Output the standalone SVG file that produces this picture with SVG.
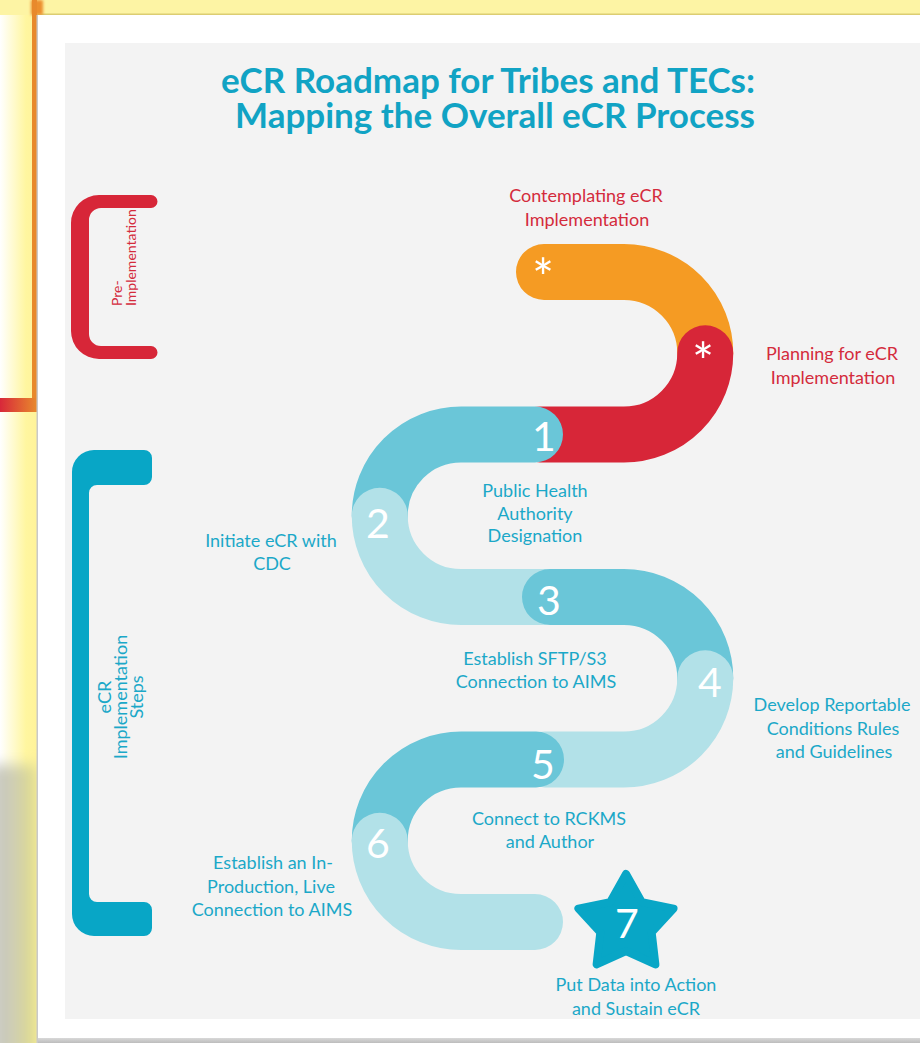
<svg xmlns="http://www.w3.org/2000/svg" width="920" height="1043" viewBox="0 0 920 1043">
<defs>
<linearGradient id="gLeft" x1="0" y1="0" x2="1" y2="0">
<stop offset="0" stop-color="#ffffff"/>
<stop offset="0.7" stop-color="#fff6a0"/>
<stop offset="1" stop-color="#fff39a"/>
</linearGradient>
<linearGradient id="gBand" x1="0" y1="0" x2="1" y2="0">
<stop offset="0" stop-color="#d8283a"/>
<stop offset="1" stop-color="#e88a2c"/>
</linearGradient>
<linearGradient id="gGray" x1="0" y1="0" x2="1" y2="0">
<stop offset="0" stop-color="#c4c4c4"/>
<stop offset="0.45" stop-color="#cdcdb8"/>
<stop offset="1" stop-color="#e0dc86"/>
</linearGradient>
<linearGradient id="gBottom" x1="0" y1="0" x2="0" y2="1">
<stop offset="0" stop-color="#d8d8d8"/>
<stop offset="1" stop-color="#bdbdbd"/>
</linearGradient>
<filter id="blur" x="-0.5" y="-0.2" width="2" height="1.4"><feGaussianBlur stdDeviation="7"/></filter>
<filter id="blur2" x="-0.5" y="-0.5" width="2" height="2"><feGaussianBlur stdDeviation="1.5"/></filter>
<style>
.seg{fill:none;stroke-width:56;stroke-linecap:round}
.orange{stroke:#f59b23}
.red{stroke:#d72638}
.mid{stroke:#6ac6d8}
.light{stroke:#b2e1e8}
.num{font-family:Lato,"Open Sans",sans-serif;font-size:41px;fill:#ffffff;text-anchor:middle}
.ast{font-family:Lato,"Open Sans",sans-serif;font-size:52px;fill:#ffffff;text-anchor:middle}
.lb{font-family:Lato,"Open Sans",sans-serif;font-size:18px;fill:#1ba8c8;text-anchor:middle}
.lr{font-family:Lato,"Open Sans",sans-serif;font-size:18px;fill:#d42b3c;text-anchor:middle}
.title{font-family:Lato,"Open Sans",sans-serif;font-weight:bold;font-size:35px;fill:#11a3c4;text-anchor:middle}
.vt{font-family:Lato,"Open Sans",sans-serif;font-size:14px}
</style>
</defs>

<!-- screenshot frame -->
<g id="frame">
<rect x="0" y="0" width="920" height="1043" fill="#ffffff"/>
<rect x="0" y="0" width="37" height="1043" fill="url(#gLeft)"/>
<rect x="0" y="0" width="920" height="15" fill="#fdf4a4"/>
<rect x="37" y="13.5" width="883" height="1.5" fill="#dccd72"/>
<rect x="31" y="0" width="12" height="15" fill="#ec8f2e" filter="url(#blur2)"/>
<rect x="32" y="0" width="5" height="398" fill="#e8892c"/>
<rect x="0" y="398" width="37" height="14" fill="url(#gBand)"/>
<rect x="-10" y="765" width="47" height="300" fill="url(#gGray)" filter="url(#blur)"/>
<rect x="37" y="15" width="883" height="1028" fill="#ffffff"/>
<rect x="36.5" y="15" width="1.5" height="1028" fill="#c9c9c9"/>
<rect x="38" y="1038" width="882" height="5" fill="url(#gBottom)"/>
<rect x="65" y="43" width="855" height="976" fill="#f3f3f3"/>
</g>

<g id="title">
<text class="title" x="488" y="93">eCR Roadmap for Tribes and TECs:</text>
<text class="title" x="495" y="128">Mapping the Overall eCR Process</text>
</g>

<g id="bracket-pre">
<path d="M151 195 L99 195 A28 28 0 0 0 71 223 L71 331 A28 28 0 0 0 99 359 L151 359 A6.5 6.5 0 0 0 151 346 L101 346 A12 12 0 0 1 89 334 L89 220 A12 12 0 0 1 101 208 L151 208 A6.5 6.5 0 0 0 151 195 Z" fill="#d72638"/>
<text class="vt" fill="#d42b3c" transform="translate(122,306) rotate(-90)"><tspan x="0" y="0">Pre-</tspan><tspan x="0" y="14">Implementation</tspan></text>
</g>

<g id="bracket-impl">
<path d="M144 450 L94 450 A22 22 0 0 0 72 472 L72 914 A22 22 0 0 0 94 936 L144 936 A8 8 0 0 0 152 928 L152 910 A8 8 0 0 0 144 902 L97 902 A8 8 0 0 1 89 894 L89 493 A8 8 0 0 1 97 485 L144 485 A8 8 0 0 0 152 477 L152 458 A8 8 0 0 0 144 450 Z" fill="#08a6c6"/>
<text class="vt" fill="#1ba8c8" text-anchor="middle" style="font-size:18px" transform="translate(111,697) rotate(-90)"><tspan x="0" y="0">eCR</tspan><tspan x="0" y="16">Implementation</tspan><tspan x="0" y="32">Steps</tspan></text>
</g>

<g id="connectors">
<path class="seg orange" d="M544 272 L624 272 A81.25 81.25 0 0 1 705.25 353.25"/>
<path class="seg red" d="M705.25 353.25 A81.25 81.25 0 0 1 624 434.5 L540 434.5"/>
<path class="seg mid" d="M535 434.5 L461 434.5 A81.25 81.25 0 0 0 379.75 515.75"/>
<path class="seg light" d="M379.75 515.75 A81.25 81.25 0 0 0 461 597 L545 597"/>
<path class="seg mid" d="M550 597 L624 597 A81.25 81.25 0 0 1 705.25 678.25"/>
<path class="seg light" d="M705.25 678.25 A81.25 81.25 0 0 1 624 759.5 L545 759.5"/>
<path class="seg mid" d="M536 759.5 L461 759.5 A81.25 81.25 0 0 0 379.75 840.75"/>
<path class="seg light" d="M379.75 840.75 A81.25 81.25 0 0 0 461 922 L535 922"/>
</g>

<g id="node-contemplating">
<text class="ast" x="543" y="297">*</text>
<text class="lr" x="586" y="202">Contemplating eCR</text>
<text class="lr" x="587" y="226">Implementation</text>
</g>

<g id="node-planning">
<text class="ast" x="703" y="381">*</text>
<text class="lr" x="832" y="360">Planning for eCR</text>
<text class="lr" x="833" y="384">Implementation</text>
</g>

<g id="node-1">
<text class="num" x="544" y="451">1</text>
<text class="lb" x="535" y="497">Public Health</text>
<text class="lb" x="535" y="520">Authority</text>
<text class="lb" x="535" y="542">Designation</text>
</g>

<g id="node-2">
<text class="num" x="378" y="538">2</text>
<text class="lb" x="271" y="547">Initiate eCR with</text>
<text class="lb" x="272" y="570">CDC</text>
</g>

<g id="node-3">
<text class="num" x="549" y="615">3</text>
<text class="lb" x="535" y="665">Establish SFTP/S3</text>
<text class="lb" x="536" y="688">Connection to AIMS</text>
</g>

<g id="node-4">
<text class="num" x="710" y="697">4</text>
<text class="lb" x="832" y="711">Develop Reportable</text>
<text class="lb" x="833" y="735">Conditions Rules</text>
<text class="lb" x="834" y="758">and Guidelines</text>
</g>

<g id="node-5">
<text class="num" x="543" y="779">5</text>
<text class="lb" x="549" y="825">Connect to RCKMS</text>
<text class="lb" x="550" y="848">and Author</text>
</g>

<g id="node-6">
<text class="num" x="378" y="858">6</text>
<text class="lb" x="273" y="869">Establish an In-</text>
<text class="lb" x="271" y="893">Production, Live</text>
<text class="lb" x="272" y="916">Connection to AIMS</text>
</g>

<g id="node-7">
<polygon points="626,874 641.87,902.16 673.55,908.55 651.68,932.34 655.39,964.45 626,951 596.61,964.45 600.32,932.34 578.45,908.55 610.13,902.16" fill="#08a6c6" stroke="#08a6c6" stroke-width="8" stroke-linejoin="round"/>
<text class="num" x="627" y="938">7</text>
<text class="lb" x="636" y="991">Put Data into Action</text>
<text class="lb" x="636" y="1015">and Sustain eCR</text>
</g>
</svg>
